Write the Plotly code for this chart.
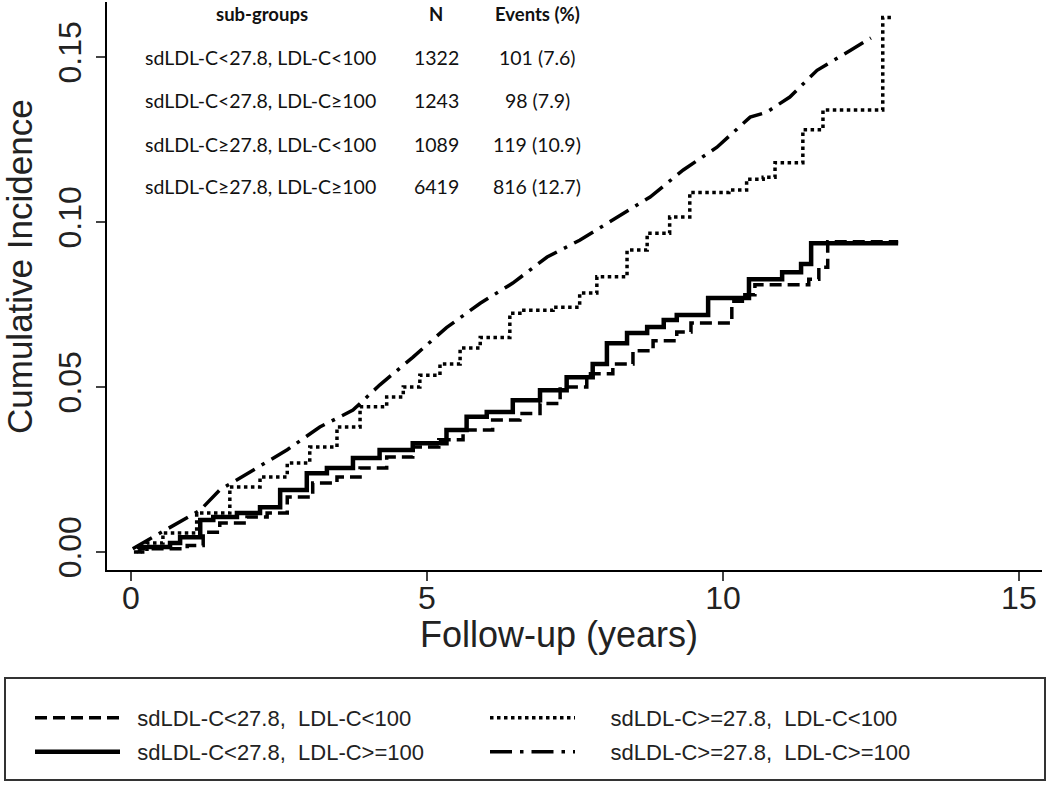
import plotly.graph_objects as go

# ---- data ----
names = ["sdLDL-C<27.8,  LDL-C<100", "sdLDL-C>=27.8,  LDL-C<100",
         "sdLDL-C<27.8,  LDL-C>=100", "sdLDL-C>=27.8,  LDL-C>=100"]

t_a = [0.1, 0.15, 0.95, 1.22, 1.5, 1.96, 2.3, 2.64, 3.07, 3.48, 3.87, 4.32, 4.76, 5.2, 5.61, 6.11,
       6.57, 6.91, 7.25, 7.7, 8.14, 8.48, 8.82, 9.22, 9.46, 10.15, 10.37, 10.54, 11.45, 11.62, 11.77, 12.96]
v_a = [0, 0.001, 0.002, 0.006, 0.0088, 0.0106, 0.0118, 0.0167, 0.0209, 0.0227, 0.0255, 0.0288, 0.0318,
       0.034, 0.037, 0.04, 0.042, 0.045, 0.05, 0.054, 0.057, 0.061, 0.064, 0.0667, 0.0694, 0.076, 0.078,
       0.081, 0.0827, 0.0863, 0.094, 0.094]

t_b = [0.1, 0.66, 0.83, 1.17, 1.39, 1.79, 2.18, 2.52, 2.97, 3.31, 3.75, 4.2, 4.76, 5.33, 5.67, 6.01,
       6.45, 6.91, 7.36, 7.8, 8.04, 8.38, 8.72, 9.0, 9.22, 9.75, 10.44, 11.0, 11.32, 11.49, 12.96]
v_b = [0.0015, 0.0027, 0.0045, 0.0097, 0.0106, 0.0118, 0.0136, 0.0188, 0.0239, 0.0255, 0.0285, 0.0309,
       0.033, 0.037, 0.041, 0.0424, 0.046, 0.049, 0.053, 0.057, 0.0633, 0.0664, 0.0682, 0.0703, 0.0718,
       0.077, 0.0827, 0.0848, 0.0873, 0.0936, 0.0936]

t_c = [0.05, 0.27, 0.54, 1.11, 1.67, 2.18, 2.64, 3.02, 3.48, 3.87, 4.32, 4.6, 4.88, 5.22, 5.56, 5.9,
       6.4, 6.57, 7.13, 7.58, 7.87, 8.38, 8.72, 9.1, 9.44, 10.1, 10.4, 10.68, 10.88, 11.35, 11.69, 12.7, 12.87]
v_c = [0, 0.0027, 0.0058, 0.0118, 0.0197, 0.0227, 0.027, 0.0318, 0.0379, 0.044, 0.047, 0.05, 0.0536,
       0.057, 0.0618, 0.065, 0.0724, 0.0733, 0.0742, 0.0785, 0.0834, 0.0915, 0.0966, 0.1015, 0.109,
       0.1097, 0.113, 0.1136, 0.118, 0.128, 0.134, 0.162, 0.162]

t_d = [0.03, 0.37, 0.95, 1.17, 1.5, 2.06, 2.64, 3.19, 3.75, 4.2, 4.76, 5.33, 5.9, 6.45, 7.03, 7.58,
       8.14, 8.48, 8.77, 9.33, 9.9, 10.46, 10.74, 11.13, 11.59, 12.15, 12.5]
v_d = [0.001, 0.0045, 0.0106, 0.0127, 0.0188, 0.0248, 0.031, 0.0379, 0.043, 0.0506, 0.059, 0.068,
       0.0754, 0.0815, 0.0894, 0.0945, 0.1006, 0.1045, 0.1076, 0.1158, 0.1227, 0.1318, 0.1333, 0.1379,
       0.146, 0.152, 0.1558]

table_groups = ["sdLDL-C<27.8, LDL-C<100", "sdLDL-C<27.8, LDL-C\u2265100",
                "sdLDL-C\u226527.8, LDL-C<100", "sdLDL-C\u226527.8, LDL-C\u2265100"]
table_n = ["1322", "1243", "1089", "6419"]
table_events = ["101 (7.6)", "98 (7.9)", "119 (10.9)", "816 (12.7)"]

x_ticks = [0, 5, 10, 15]
y_ticks = [0.0, 0.05, 0.10, 0.15]


def px2x(px):
    return (px - 107) / 935


def py2y(py):
    return (570 - py) / 568


# ---- figure ----
fig = go.Figure()
NB = "\u00a0"
styles = [
    dict(t=t_a, v=v_a, dash="12px,6px", width=3.5, shape="hv", legend="legend", lx=30, ly=718, pad=2),
    dict(t=t_c, v=v_c, dash="3.5px,3.5px", width=3.5, shape="hv", legend="legend2", lx=485, ly=718, pad=5),
    dict(t=t_b, v=v_b, dash="solid", width=4.5, shape="hv", legend="legend3", lx=30, ly=752, pad=2),
    dict(t=t_d, v=v_d, dash="22px,8px,3.5px,8px", width=3.5, shape="linear", legend="legend4", lx=485, ly=752, pad=5),
]
leg_font = dict(family="Liberation Sans, Arial, sans-serif", size=22, color="#222")
legends = {}
for nm, s in zip(names, styles):
    fig.add_trace(go.Scatter(x=s["t"], y=s["v"], mode="lines", name=NB * s["pad"] + nm,
                             line=dict(color="black", width=s["width"], dash=s["dash"], shape=s["shape"]),
                             legend=s["legend"]))
    legends[s["legend"]] = dict(orientation="h", xanchor="left", yanchor="middle",
                                x=px2x(s["lx"]), y=py2y(s["ly"]), font=leg_font, itemwidth=85,
                                bgcolor="rgba(0,0,0,0)", borderwidth=0, itemclick=False)

fig.update_xaxes(range=[-0.405, 15.39], tickvals=x_ticks, ticks="outside", ticklen=9, tickwidth=2,
                 showline=True, linecolor="black", linewidth=2, showgrid=False, zeroline=False,
                 tickfont=dict(family="Liberation Sans, Arial, sans-serif", size=32, color="#222"),
                 automargin=False, ticklabelstandoff=-10)
fig.update_yaxes(range=[-0.00545, 0.1667], tickvals=y_ticks, tickformat=".2f", tickangle=-90,
                 ticks="outside", ticklen=9, tickwidth=2,
                 showline=True, linecolor="black", linewidth=2, showgrid=False, zeroline=False,
                 tickfont=dict(family="Liberation Sans, Arial, sans-serif", size=32, color="#222"),
                 automargin=False, ticklabelstandoff=2)

fig.update_layout(
    width=1050, height=785,
    margin=dict(l=107, r=8, t=2, b=215, autoexpand=False),
    paper_bgcolor="white", plot_bgcolor="white",
    showlegend=True,
    **legends,
)

# axis titles
fig.add_annotation(text="Follow-up (years)", x=px2x(559), y=py2y(634), xref="paper", yref="paper",
                   showarrow=False, xanchor="center", yanchor="middle",
                   font=dict(family="Liberation Sans, Arial, sans-serif", size=36, color="#222"))
fig.add_annotation(text="Cumulative Incidence", x=px2x(19), y=py2y(267), xref="paper", yref="paper",
                   showarrow=False, xanchor="center", yanchor="middle", textangle=-90,
                   font=dict(family="Liberation Sans, Arial, sans-serif", size=35, color="#222"))

# legend frame
fig.add_shape(type="rect", xref="paper", yref="paper",
              x0=px2x(5), x1=px2x(1045), y0=py2y(678), y1=py2y(780),
              line=dict(color="#333", width=2), fillcolor="rgba(0,0,0,0)")

# table annotations
tfont = dict(family="Lato, Open Sans, sans-serif", size=19.5, color="#111")
hfont = dict(family="Lato, Open Sans, sans-serif", size=18.5, color="#111")

for txt, cx in [("sub-groups", 262), ("N", 436), ("Events (%)", 537)]:
    fig.add_annotation(text=f"<b>{txt}</b>", x=px2x(cx), y=py2y(14), xref="paper", yref="paper",
                       showarrow=False, xanchor="center", yanchor="middle", font=hfont)
row_y = [57, 100, 144, 187]
for g, n, e, ry in zip(table_groups, table_n, table_events, row_y):
    fig.add_annotation(text=g, x=px2x(143), y=py2y(ry), xref="paper", yref="paper",
                       showarrow=False, xanchor="left", yanchor="middle", font=tfont)
    fig.add_annotation(text=n, x=px2x(436), y=py2y(ry), xref="paper", yref="paper",
                       showarrow=False, xanchor="center", yanchor="middle", font=tfont)
    fig.add_annotation(text=e, x=px2x(537), y=py2y(ry), xref="paper", yref="paper",
                       showarrow=False, xanchor="center", yanchor="middle", font=tfont)

fig.write_html("out.html", config={"displayModeBar": False},
               post_script="document.body.style.margin='0';document.body.style.overflow='hidden';")
